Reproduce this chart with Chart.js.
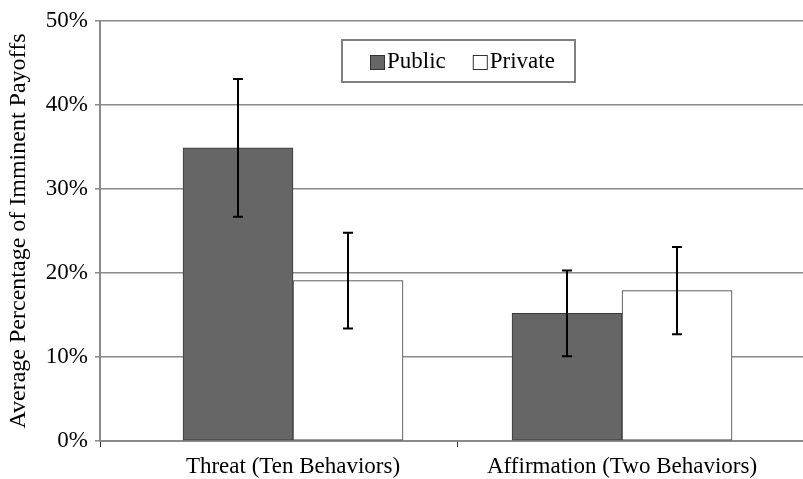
<!DOCTYPE html>
<html>
<head>
<meta charset="utf-8">
<script src="https://cdn.jsdelivr.net/npm/chart.js@4/dist/chart.umd.min.js"></script>
<style>
  html, body { margin: 0; padding: 0; background: #fff; overflow: hidden; }
  #wrap { width: 803px; height: 479px; position: relative; }
</style>
</head>
<body>
<div id="wrap"><canvas id="c" width="803" height="479"></canvas></div>
<script>
// Categories and series
const categories = ['Threat (Ten Behaviors)', 'Affirmation (Two Behaviors)'];
const seriesNames = ['Public', 'Private'];
const publicValues = [34.9, 15.2];
const privateValues = [19.1, 17.9];
// Half-width of the error bars (percentage points)
const publicErrors = [8.2, 5.1];
const privateErrors = [5.7, 5.2];
const yTicks = [0, 10, 20, 30, 40, 50];

const FONT = '"Liberation Serif", "Times New Roman", serif';
const GRID = '#8a8a8a';

const toPoints = vals => vals.map((v, i) => ({ x: i, y: v }));

// Error bars drawn from the dataset values through the chart scales
const errorBars = {
  id: 'errorBars',
  afterDatasetsDraw(chart) {
    const { ctx, scales: { y } } = chart;
    ctx.save();
    ctx.strokeStyle = '#000';
    ctx.lineWidth = 2;
    chart.data.datasets.forEach((ds, di) => {
      const meta = chart.getDatasetMeta(di);
      meta.data.forEach((bar, i) => {
        const v = ds.data[i].y, e = ds.errors[i];
        const yt = y.getPixelForValue(v + e);
        const yb = y.getPixelForValue(v - e);
        const x = Math.round(bar.x);
        ctx.beginPath();
        ctx.moveTo(x, yt); ctx.lineTo(x, yb);
        ctx.moveTo(x - 5, yt); ctx.lineTo(x + 5, yt);
        ctx.moveTo(x - 5, yb); ctx.lineTo(x + 5, yb);
        ctx.stroke();
      });
    });
    ctx.restore();
  }
};

// Boxed legend inside the plot
const boxLegend = {
  id: 'boxLegend',
  afterDraw(chart) {
    const ctx = chart.ctx;
    const bx = 342, by = 40, bw = 233, bh = 42;
    ctx.save();
    ctx.fillStyle = '#fff';
    ctx.fillRect(bx, by, bw, bh);
    ctx.strokeStyle = '#808080';
    ctx.lineWidth = 2;
    ctx.strokeRect(bx, by, bw, bh);
    ctx.font = '23px ' + FONT;
    ctx.textBaseline = 'middle';
    let x = bx + 28;
    const cy = by + bh / 2 + 1;
    chart.data.datasets.forEach(ds => {
      ctx.fillStyle = ds.backgroundColor;
      ctx.fillRect(x + 0.5, cy - 6.5, 14, 14);
      ctx.strokeStyle = '#333';
      ctx.lineWidth = 1;
      ctx.strokeRect(x + 0.5, cy - 6.5, 14, 14);
      ctx.fillStyle = '#000';
      ctx.fillText(ds.label, x + 17, cy);
      x += 17 + ctx.measureText(ds.label).width + 27;
    });
    ctx.restore();
  }
};

new Chart(document.getElementById('c'), {
  type: 'bar',
  data: {
    datasets: [
      { label: seriesNames[0], data: toPoints(publicValues), errors: publicErrors,
        backgroundColor: '#666666', borderColor: '#3a3a3a', borderWidth: 1, borderSkipped: false },
      { label: seriesNames[1], data: toPoints(privateValues), errors: privateErrors,
        backgroundColor: '#ffffff', borderColor: '#3a3a3a', borderWidth: 1, borderSkipped: false }
    ]
  },
  options: {
    responsive: false,
    animation: false,
    events: [],
    barThickness: 110,
    layout: { padding: { top: 21, right: 0, left: 0, bottom: 0 } },
    plugins: { legend: { display: false }, tooltip: { enabled: false } },
    scales: {
      x: {
        type: 'linear',
        min: -0.5866,
        max: 1.55,
        offset: false,
        grid: {
          offset: false,
          drawOnChartArea: false,
          drawTicks: true,
          tickLength: 6,
          color: GRID,
          tickColor: ctx => (ctx.tick && Number.isInteger(ctx.tick.value)) ? 'rgba(0,0,0,0)' : '#333'
        },
        border: { color: GRID, width: 2 },
        afterBuildTicks: scale => {
          scale.ticks = [{ value: scale.min }, { value: 0 }, { value: 0.5 }, { value: 1 }];
        },
        afterFit: scale => { scale.height = 38; },
        ticks: {
          autoSkip: false,
          maxRotation: 0,
          padding: 6,
          color: '#000',
          font: { family: FONT, size: 23 },
          callback: v => Number.isInteger(v) ? categories[v] : ''
        }
      },
      y: {
        min: 0,
        max: 50,
        afterBuildTicks: scale => { scale.ticks = yTicks.map(v => ({ value: v })); },
        afterFit: scale => { scale.width = 100; },
        grid: { color: GRID, lineWidth: 1.5, tickLength: 5, tickColor: GRID },
        border: { color: GRID, width: 2 },
        ticks: {
          color: '#000',
          padding: 7,
          font: { family: FONT, size: 23 },
          callback: v => v + '%'
        },
        title: {
          display: true,
          text: 'Average Percentage of Imminent Payoffs',
          color: '#000',
          font: { family: FONT, size: 24 },
          padding: { top: 4, bottom: 0 }
        }
      }
    }
  },
  plugins: [errorBars, boxLegend]
});
</script>
</body>
</html>
